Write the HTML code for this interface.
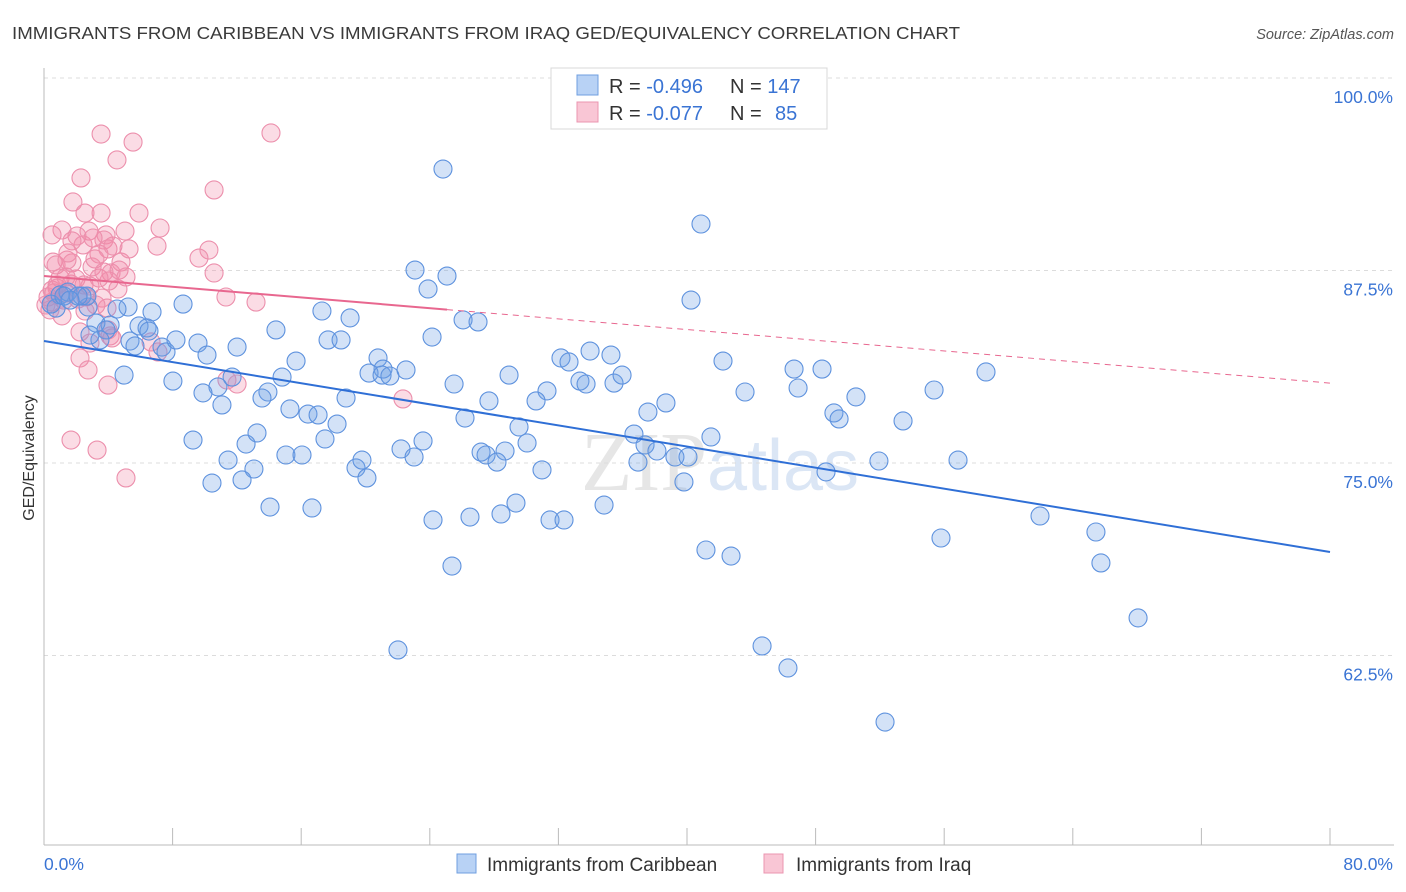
<!DOCTYPE html>
<html><head><meta charset="utf-8"><style>
body{margin:0;background:#fff;font-family:"Liberation Sans",sans-serif;}
svg{display:block}
</style></head><body>
<svg id="chart" width="1406" height="892" viewBox="0 0 1406 892" xmlns="http://www.w3.org/2000/svg">
<text x="12" y="39" font-size="17.5" fill="#3a3a3a" textLength="948" lengthAdjust="spacingAndGlyphs">IMMIGRANTS FROM CARIBBEAN VS IMMIGRANTS FROM IRAQ GED/EQUIVALENCY CORRELATION CHART</text>
<text x="1394" y="39" font-size="14.5" fill="#555" font-style="italic" text-anchor="end">Source: ZipAtlas.com</text>
<text transform="translate(34,458) rotate(-90)" font-size="16" fill="#333" text-anchor="middle">GED/Equivalency</text>
<text x="720" y="490" font-size="84" text-anchor="middle" fill="#e6e6e6" font-family="Liberation Serif, serif">ZIP<tspan fill="#dbe6f5" font-family="Liberation Sans, sans-serif" font-size="72">atlas</tspan></text>
<g id="grid"></g><g id="axes"></g><g id="pts"></g><g id="trend"></g>
<g>
<rect x="551" y="68" width="276" height="61" fill="#fff" stroke="#d8d8d8"/>
<rect x="577" y="75" width="21" height="20" fill="#b8d2f5" stroke="#6f9fe0"/>
<rect x="577" y="102" width="21" height="20" fill="#f9c6d5" stroke="#eb95b0"/>
<text x="609" y="93" font-size="20" fill="#333">R = <tspan fill="#3a74d4">-0.496</tspan><tspan x="730">N = </tspan><tspan fill="#3a74d4">147</tspan></text>
<text x="609" y="120" font-size="20" fill="#333">R = <tspan fill="#3a74d4">-0.077</tspan><tspan x="730">N = </tspan><tspan fill="#3a74d4" x="775">85</tspan></text>
</g>
<g>
<rect x="457" y="854" width="19" height="19" fill="#b8d2f5" stroke="#6f9fe0"/>
<text x="487" y="871" font-size="19" fill="#333">Immigrants from Caribbean</text>
<rect x="764" y="854" width="19" height="19" fill="#f9c6d5" stroke="#eb95b0"/>
<text x="796" y="871" font-size="19" fill="#333">Immigrants from Iraq</text>
</g>
</svg>
<script>
const blueX=[24.82,40.87,23.08,25.07,23.89,40.25,8.65,17.29,19.04,6.72,5.23,4.54,2.74,4.11,5.91,6.41,6.53,3.23,0.75,1.0,1.49,2.36,2.67,3.86,5.35,7.34,7.59,8.21,9.58,10.14,12.01,14.43,17.67,18.48,24.14,26.07,27.0,32.16,32.66,33.97,35.27,20.78,21.09,20.22,21.03,21.52,22.52,15.68,14.81,8.02,4.98,11.70,10.82,9.89,13.93,13.56,25.51,28.93,31.29,30.61,33.34,33.72,35.46,35.96,42.24,43.61,46.91,46.66,48.40,50.51,55.37,58.60,15.30,16.42,17.05,18.23,18.79,11.07,9.27,12.57,13.25,17.48,26.19,27.68,29.55,30.05,37.57,38.69,36.70,41.49,49.14,49.46,53.44,22.21,23.02,23.58,27.19,27.50,28.68,28.18,30.98,36.95,37.39,38.13,39.25,40.06,39.81,48.65,51.94,56.86,11.45,13.06,15.05,16.05,19.41,19.78,20.09,10.45,12.32,14.06,16.67,24.20,26.50,28.43,29.36,31.48,32.35,34.84,61.96,65.44,65.75,55.80,41.18,42.74,25.38,68.06,22.02,44.67,46.28,52.32,0.44,1.24,2.12,1.62,5.66,3.48,2.86];
const blueY=[94.09,90.52,87.53,87.14,86.30,85.58,85.32,84.87,84.42,84.81,85.13,85.0,85.13,83.96,83.90,83.77,83.57,84.09,85.06,85.91,86.10,85.84,85.84,83.64,82.92,82.53,82.21,82.99,82.79,82.01,82.53,83.64,82.99,82.99,83.18,84.29,84.16,81.82,81.56,82.27,82.01,81.82,81.10,80.84,80.71,80.65,81.04,81.62,80.58,80.32,80.71,80.58,79.94,79.55,79.61,79.22,80.13,80.71,79.68,79.03,80.32,80.13,80.19,80.71,81.62,79.61,79.87,81.10,81.10,79.29,79.74,80.91,78.51,78.18,78.12,77.53,79.22,78.77,76.49,76.23,76.95,76.56,77.92,79.03,77.34,76.30,78.31,78.90,76.88,76.69,78.25,77.86,77.73,75.91,75.39,76.43,75.71,75.52,75.78,75.06,74.55,75.06,76.17,75.78,75.39,75.39,73.77,74.42,75.13,75.19,75.19,74.61,75.52,75.52,74.68,75.19,74.03,73.70,73.90,72.14,72.08,71.30,71.49,71.69,72.40,71.30,71.30,72.27,71.56,70.52,68.51,70.13,69.35,68.96,68.31,64.94,62.86,63.12,61.69,58.18,85.32,85.84,85.84,85.58,82.60,82.99,83.31];
const pinkX=[3.55,5.54,4.54,14.12,2.30,10.58,1.80,3.55,2.55,1.12,2.80,5.91,5.04,7.22,4.79,5.29,3.86,2.05,3.73,3.98,7.03,3.42,0.50,0.56,0.75,1.74,1.0,1.99,2.49,2.86,1.68,0.50,0.81,1.37,2.99,4.17,10.26,9.64,10.58,11.32,13.19,4.60,3.61,3.92,3.23,2.55,1.12,0.50,1.24,0.25,2.24,2.86,4.11,3.98,6.66,7.09,11.38,12.01,2.24,2.74,3.98,4.23,22.33,1.68,3.30,5.10,0.81,1.37,2.12,0.62,1.43,3.17,4.67,5.10,4.04,3.42,2.61,2.43,3.73,1.74,3.05,4.29,1.49,0.37,0.12];
const pinkY=[96.36,95.84,94.68,96.43,93.51,92.73,91.95,91.23,91.23,90.13,90.06,91.23,90.06,90.26,88.05,88.90,89.81,89.74,89.48,88.90,89.09,88.57,89.81,88.05,87.86,87.99,87.01,86.95,86.56,86.49,86.62,86.23,86.36,87.08,87.73,87.34,88.83,88.31,87.34,85.78,85.45,86.30,85.71,85.06,85.26,84.87,84.55,85.45,85.58,85.78,83.51,82.79,83.25,83.64,82.86,82.21,80.39,80.13,81.82,81.04,80.06,83.12,79.16,76.49,75.84,74.03,86.56,86.04,85.65,86.04,88.18,88.25,87.53,87.08,86.82,87.01,85.78,89.16,87.40,89.42,89.61,89.09,88.64,84.94,85.26];
const blueTrend=[82.92,69.22];
const pinkTrend=[87.14,80.19];
const pinkSolidEnd=25.07;
const yTicks=[100,87.5,75,62.5];
const yTickLabels=["100.0%","87.5%","75.0%","62.5%"];
const xTicks=[0,8,16,24,32,40,48,56,64,72,80];

const NS="http://www.w3.org/2000/svg";
const X0=44,X1=1330,XMAX=80,YTOP=78,PXPER=15.4;
const sx=v=>X0+v/XMAX*(X1-X0);
const sy=v=>YTOP+(100-v)*PXPER;
function mk(tag,attrs,parent){const e=document.createElementNS(NS,tag);for(const k in attrs)e.setAttribute(k,attrs[k]);parent.appendChild(e);return e;}
const grid=document.getElementById('grid'),axes=document.getElementById('axes'),pts=document.getElementById('pts'),trend=document.getElementById('trend');
yTicks.forEach((t,i)=>{
  const l=mk('line',{x1:X0,x2:1394,y1:sy(t),y2:sy(t),stroke:'#dcdcdc','stroke-dasharray':'4,4'},grid);
  
  
  const tx=mk('text',{x:1393,y:sy(t)+25,'font-size':17.5,fill:'#3a74d4','text-anchor':'end'},grid);
  tx.textContent=yTickLabels[i];
  
  
});
const ya=mk('line',{x1:X0,x2:X0,y1:68,y2:845,stroke:'#bbb'},axes);


const xa=mk('line',{x1:X0,x2:1394,y1:845,y2:845,stroke:'#bbb'},axes);


xTicks.forEach(t=>{
  const tk=mk('line',{x1:sx(t),x2:sx(t),y1:828,y2:845,stroke:'#bbb'},axes);
  
  
});
const xl0=mk('text',{x:44,y:870,'font-size':17.5,fill:'#3a74d4'},axes);
xl0.textContent=xTicks[0].toFixed(1)+'%';


const xl1=mk('text',{x:1393,y:870,'font-size':17.5,fill:'#3a74d4','text-anchor':'end'},axes);
xl1.textContent=xTicks[xTicks.length-1].toFixed(1)+'%';


pinkX.forEach((v,i)=>{
  const c=mk('circle',{cx:sx(v),cy:sy(pinkY[i]),r:9,fill:'rgba(242,140,170,0.3)',stroke:'#ec8fac','stroke-width':1.1},pts);
  
  
});
blueX.forEach((v,i)=>{
  const c=mk('circle',{cx:sx(v),cy:sy(blueY[i]),r:9,fill:'rgba(110,160,230,0.3)',stroke:'#5e92de','stroke-width':1.1},pts);
  
  
});
const bt=mk('line',{x1:sx(0),y1:sy(blueTrend[0]),x2:sx(80),y2:sy(blueTrend[1]),stroke:'#2f6fd6','stroke-width':2},trend);


const pAt=x=>pinkTrend[0]+(pinkTrend[1]-pinkTrend[0])*x/80;
const ps=mk('line',{x1:sx(0),y1:sy(pinkTrend[0]),x2:sx(pinkSolidEnd),y2:sy(pAt(pinkSolidEnd)),stroke:'#e8678f','stroke-width':2},trend);


const pd=mk('line',{x1:sx(pinkSolidEnd),y1:sy(pAt(pinkSolidEnd)),x2:sx(80),y2:sy(pinkTrend[1]),stroke:'#e8678f','stroke-width':1,'stroke-dasharray':'6,5'},trend);


</script>
</body></html>
